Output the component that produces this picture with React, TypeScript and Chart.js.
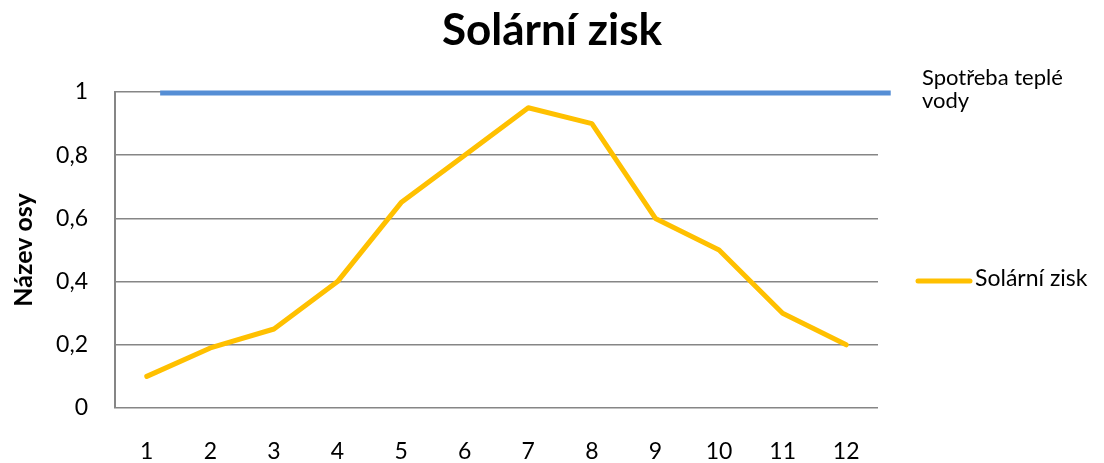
import React, { useEffect, useRef } from 'react';
import { Chart, registerables } from 'chart.js';

Chart.register(...registerables);

const TITLE = 'Solární zisk';
const Y_TITLE = 'Název osy';
const MONTHS = ['1', '2', '3', '4', '5', '6', '7', '8', '9', '10', '11', '12'];
const SOLAR_LABEL = 'Solární zisk';
const SOLAR = [0.1, 0.19, 0.25, 0.4, 0.65, 0.8, 0.95, 0.9, 0.6, 0.5, 0.3, 0.2];
const DEMAND_LABEL = ['Spotřeba teplé', 'vody'];
const DEMAND_X = [1.21, 12.7];
const DEMAND_Y = [0.997, 0.997];

const FONT = 'Lato, "Open Sans", sans-serif';
const SOLAR_COLOR = '#FFC000';
const DEMAND_COLOR = '#558ED5';
const GRID = '#868686';

const legendPlugin = {
  id: 'customLegend',
  afterDraw(chart: any) {
    const ctx = chart.ctx;
    ctx.save();
    ctx.fillStyle = '#000';
    ctx.font = `22px ${FONT}`;
    ctx.textAlign = 'left';
    ctx.textBaseline = 'alphabetic';
    ctx.fillText(DEMAND_LABEL[0], 922, 85);
    ctx.fillText(DEMAND_LABEL[1], 922, 108);
    ctx.strokeStyle = SOLAR_COLOR;
    ctx.lineWidth = 5;
    ctx.lineCap = 'round';
    ctx.beginPath();
    ctx.moveTo(918, 281);
    ctx.lineTo(970, 281);
    ctx.stroke();
    ctx.font = `23px ${FONT}`;
    ctx.textBaseline = 'middle';
    ctx.fillText(SOLAR_LABEL, 975, 279);
    ctx.restore();
  },
};

export default function App() {
  const ref = useRef<HTMLCanvasElement | null>(null);
  useEffect(() => {
    if (!ref.current) return;
    const chart = new Chart(ref.current, {
      type: 'line',
      data: {
        labels: MONTHS,
        datasets: [
          {
            label: SOLAR_LABEL,
            data: SOLAR,
            xAxisID: 'x',
            borderColor: SOLAR_COLOR,
            backgroundColor: SOLAR_COLOR,
            borderWidth: 5,
            pointRadius: 0,
            tension: 0,
            borderJoinStyle: 'round',
            borderCapStyle: 'round',
          },
          {
            label: DEMAND_LABEL.join(' '),
            data: DEMAND_X.map((x, i) => ({ x, y: DEMAND_Y[i] })),
            xAxisID: 'x2',
            borderColor: DEMAND_COLOR,
            backgroundColor: DEMAND_COLOR,
            borderWidth: 5,
            pointRadius: 0,
            clip: false,
          } as any,
        ],
      },
      options: {
        animation: false,
        responsive: true,
        maintainAspectRatio: false,
        layout: { padding: 0 },
        plugins: {
          legend: { display: false },
          tooltip: { enabled: false },
          title: {
            display: true,
            text: TITLE,
            color: '#000',
            font: { family: FONT, size: 44, weight: 'bold', lineHeight: 1.2 },
            padding: { top: 4, bottom: 35.2 },
          },
        },
        scales: {
          x: {
            type: 'category',
            offset: true,
            grid: { display: false, drawTicks: false },
            border: { display: false },
            ticks: { color: '#000', font: { family: FONT, size: 23 }, padding: 30, maxRotation: 0 },
            afterFit: (s: any) => { s.height = 55; },
          },
          x2: {
            type: 'linear',
            display: false,
            min: 0.5,
            max: 12.5,
          },
          y: {
            min: 0,
            max: 1,
            ticks: {
              stepSize: 0.2,
              color: '#000',
              font: { family: FONT, size: 23 },
              padding: 27,
              callback: (v: any) => String(Math.round(Number(v) * 10) / 10).replace('.', ','),
            },
            grid: { color: GRID, lineWidth: 1.5, drawTicks: false },
            border: { display: true, color: GRID, width: 2 },
            title: {
              display: true,
              text: Y_TITLE,
              color: '#000',
              font: { family: FONT, size: 25, weight: 'bold' },
              padding: { top: 9, bottom: 0 },
            },
            afterFit: (s: any) => { s.width = 115; },
          },
          yr: {
            type: 'linear',
            position: 'right',
            display: true,
            min: 0,
            max: 1,
            grid: { display: false, drawTicks: false },
            border: { display: false },
            ticks: { display: false },
            afterFit: (s: any) => { s.width = 226; },
          },
        },
      },
      plugins: [legendPlugin],
    });
    return () => chart.destroy();
  }, []);
  return (
    <div style={{ position: 'fixed', left: 0, top: 0, width: 1104, height: 463, background: '#fff' }}>
      <canvas ref={ref} />
    </div>
  );
}
